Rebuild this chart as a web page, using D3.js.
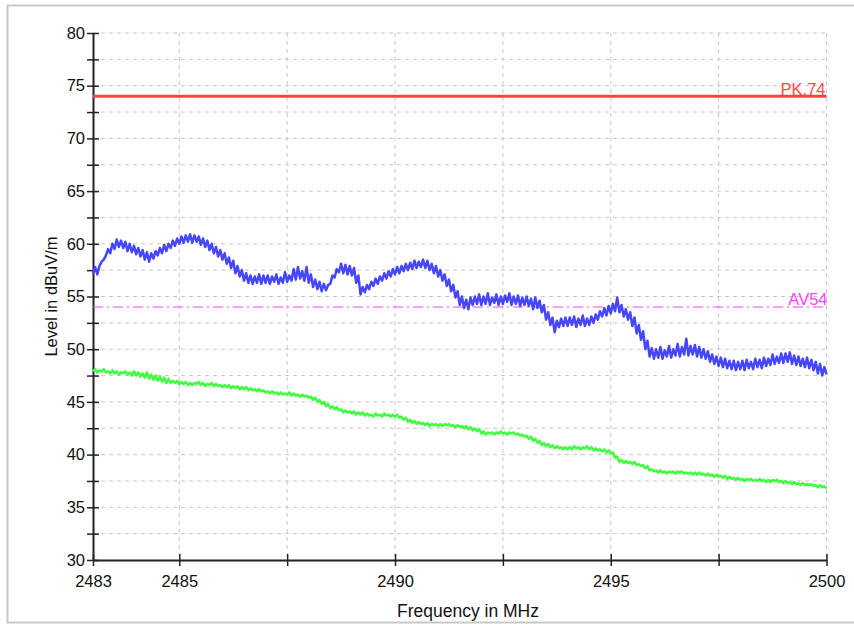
<!DOCTYPE html>
<html>
<head>
<meta charset="utf-8">
<script src="https://cdn.jsdelivr.net/npm/d3@7/dist/d3.min.js"></script>
<style>
  html, body { margin: 0; padding: 0; background: #fff; }
  svg { display: block; font-family: "Liberation Sans", Arial, sans-serif; }
</style>
</head>
<body>
<svg id="chart" width="854" height="626"></svg>
<script>
// Frequency sweep: 2483 .. 2500 MHz, one reading every 0.05 MHz
const freqStart = 2483;
const freqStep = 0.05;

// Peak detector trace (dBuV/m)
const peakLevels = [
  57.2, 57.8, 57.1, 57.9, 58.3, 58.5, 58.9, 59.5, 59.1, 60.0, 59.5, 60.4, 59.7, 60.3, 59.6, 60.2, 59.3, 60.0, 59.2, 59.8,
  59.0, 59.6, 58.8, 59.4, 58.5, 59.2, 58.3, 59.1, 58.6, 59.3, 58.9, 59.6, 59.1, 59.9, 59.3, 60.0, 59.6, 60.3, 59.8, 60.5,
  60.0, 60.7, 60.1, 60.8, 60.2, 60.9, 60.1, 60.8, 60.2, 60.7, 59.9, 60.5, 59.7, 60.3, 59.4, 60.0, 59.1, 59.7, 58.8, 59.4,
  58.5, 59.1, 58.1, 58.7, 57.7, 58.4, 57.2, 57.9, 56.9, 57.5, 56.5, 57.2, 56.3, 57.0, 56.2, 56.9, 56.3, 57.1, 56.2, 57.0,
  56.3, 57.0, 56.2, 56.9, 56.4, 57.1, 56.2, 56.8, 56.3, 57.3, 56.4, 57.0, 56.5, 57.6, 56.6, 57.8, 56.7, 57.4, 56.5, 57.8,
  56.3, 57.1, 55.9, 56.6, 55.7, 56.4, 55.5, 56.2, 55.6, 56.1, 56.2, 57.0, 56.8, 57.6, 57.3, 58.1, 57.2, 58.0, 57.1, 57.9,
  57.0, 57.7, 56.3, 57.0, 55.2, 55.9, 55.4, 56.1, 55.7, 56.4, 56.0, 56.7, 56.2, 56.9, 56.5, 57.2, 56.7, 57.4, 56.9, 57.6,
  57.1, 57.8, 57.2, 57.9, 57.4, 58.1, 57.5, 58.2, 57.6, 58.4, 57.7, 58.3, 57.8, 58.5, 57.7, 58.4, 57.5, 58.1, 57.2, 57.9,
  56.9, 57.5, 56.5, 57.1, 56.0, 56.6, 55.5, 56.1, 54.9, 55.5, 54.2, 55.0, 53.9, 54.7, 53.8, 54.9, 54.2, 55.0, 54.3, 55.2,
  54.2, 55.0, 54.3, 55.3, 54.2, 54.9, 54.4, 55.2, 54.2, 55.0, 54.3, 55.1, 54.5, 55.3, 54.2, 55.0, 54.3, 55.1, 54.1, 54.9,
  54.2, 55.0, 54.1, 54.8, 53.8, 54.9, 53.9, 54.6, 53.5, 54.2, 52.8, 53.5, 52.3, 53.0, 51.6, 52.7, 52.1, 52.9, 52.2, 53.0,
  52.2, 53.0, 52.3, 53.1, 52.1, 52.9, 52.3, 53.2, 52.2, 52.9, 52.3, 53.1, 52.5, 53.3, 52.8, 53.6, 53.1, 53.9, 53.2, 54.1,
  53.4, 54.3, 53.6, 54.9, 53.5, 54.2, 53.1, 53.8, 52.8, 53.5, 52.2, 53.0, 51.5, 52.3, 50.9, 51.7, 50.0, 50.8, 49.3, 50.1,
  49.1, 50.0, 49.2, 50.2, 49.1, 49.9, 49.3, 50.3, 49.2, 50.0, 49.4, 50.5, 49.3, 50.2, 49.5, 51.0, 49.4, 50.3, 49.5, 50.4,
  49.3, 50.2, 49.2, 50.0, 49.1, 49.8, 48.8, 49.5, 48.6, 49.3, 48.4, 49.2, 48.3, 49.1, 48.2, 48.9, 48.1, 48.9, 48.0, 48.8,
  48.1, 48.9, 48.0, 49.0, 48.2, 48.8, 48.1, 49.1, 48.3, 49.0, 48.2, 49.2, 48.4, 49.1, 48.5, 49.5, 48.6, 49.3, 48.7, 49.6,
  48.7, 49.6, 48.8, 49.7, 48.6, 49.4, 48.5, 49.3, 48.4, 49.1, 48.3, 49.2, 48.2, 49.0, 48.0, 48.8, 47.7, 48.6, 47.5, 48.3,
  47.6
];

// Average detector trace (dBuV/m)
const avgLevels = [
  47.9, 48.1, 47.8, 48.0, 47.9, 48.1, 47.8, 47.9, 47.7, 48.0, 47.7, 47.9, 47.6, 47.8, 47.7, 47.9, 47.6, 47.8, 47.5, 47.9,
  47.5, 47.8, 47.4, 47.7, 47.3, 47.8, 47.2, 47.6, 47.1, 47.5, 47.0, 47.4, 46.9, 47.3, 46.8, 47.2, 46.8, 47.0, 46.8, 47.0,
  46.7, 46.9, 46.7, 46.9, 46.6, 46.8, 46.6, 46.8, 46.7, 46.9, 46.6, 46.8, 46.5, 46.7, 46.6, 46.8, 46.5, 46.7, 46.5, 46.6,
  46.4, 46.6, 46.4, 46.6, 46.3, 46.5, 46.3, 46.5, 46.2, 46.4, 46.2, 46.4, 46.1, 46.3, 46.1, 46.2, 46.0, 46.2, 46.0, 46.1,
  45.9, 46.0, 45.8, 46.0, 45.8, 45.9, 45.7, 45.9, 45.7, 45.8, 45.7, 45.9, 45.6, 45.8, 45.6, 45.7, 45.5, 45.7, 45.5, 45.6,
  45.4, 45.5, 45.2, 45.4, 45.0, 45.2, 44.8, 45.0, 44.6, 44.8, 44.4, 44.6, 44.3, 44.5, 44.2, 44.3, 44.0, 44.2, 44.0, 44.1,
  43.9, 44.1, 43.8, 44.0, 43.8, 44.0, 43.7, 43.9, 43.7, 43.8, 43.6, 43.9, 43.7, 43.8, 43.6, 43.9, 43.7, 43.8, 43.6, 43.8,
  43.6, 43.8, 43.5, 43.6, 43.3, 43.5, 43.1, 43.3, 43.0, 43.2, 42.9, 43.1, 42.9, 43.0, 42.8, 43.0, 42.7, 42.9, 42.8, 42.9,
  42.7, 42.9, 42.7, 42.9, 42.8, 42.9, 42.7, 42.8, 42.6, 42.8, 42.6, 42.7, 42.5, 42.7, 42.4, 42.6, 42.3, 42.5, 42.2, 42.4,
  42.0, 42.2, 41.9, 42.1, 42.0, 42.1, 41.9, 42.1, 42.0, 42.2, 42.0, 42.1, 41.9, 42.1, 42.0, 42.1, 41.9, 42.0, 41.8, 41.9,
  41.7, 41.8, 41.5, 41.7, 41.3, 41.5, 41.1, 41.3, 40.9, 41.1, 40.8, 41.0, 40.7, 40.9, 40.6, 40.8, 40.6, 40.7, 40.5, 40.7,
  40.5, 40.7, 40.5, 40.8, 40.6, 40.7, 40.5, 40.7, 40.6, 40.8, 40.5, 40.7, 40.4, 40.6, 40.4, 40.5, 40.3, 40.5, 40.2, 40.4,
  40.1, 40.2, 39.7, 39.8, 39.3, 39.5, 39.2, 39.4, 39.2, 39.3, 39.1, 39.3, 39.0, 39.1, 38.9, 39.0, 38.7, 38.9, 38.5, 38.6,
  38.4, 38.5, 38.3, 38.5, 38.3, 38.4, 38.2, 38.4, 38.3, 38.4, 38.2, 38.4, 38.3, 38.4, 38.2, 38.3, 38.2, 38.3, 38.1, 38.3,
  38.1, 38.3, 38.1, 38.2, 38.0, 38.2, 38.0, 38.1, 37.9, 38.1, 37.9, 38.0, 37.8, 38.0, 37.7, 37.9, 37.7, 37.8, 37.6, 37.8,
  37.6, 37.7, 37.5, 37.7, 37.6, 37.7, 37.5, 37.6, 37.5, 37.7, 37.5, 37.6, 37.4, 37.6, 37.4, 37.6, 37.5, 37.6, 37.4, 37.5,
  37.3, 37.5, 37.3, 37.4, 37.2, 37.4, 37.2, 37.3, 37.1, 37.3, 37.1, 37.2, 37.1, 37.2, 37.0, 37.1, 36.9, 37.1, 36.9, 37.0,
  36.8
];

// Limit lines
const peakLimit = 74;
const avgLimit = 54;
const limitLabels = ["PK.74", "AV54"];

// Axis ticks
const xTicks = [2483, 2485, 2487.5, 2490, 2492.5, 2495, 2497.5, 2500];
const xTickLabels = [2483, 2485, 2490, 2495, 2500];
const yTicks = [30, 32.5, 35, 37.5, 40, 42.5, 45, 47.5, 50, 52.5, 55, 57.5, 60, 62.5, 65, 67.5, 70, 72.5, 75, 77.5, 80];
const yTickLabels = [30, 35, 40, 45, 50, 55, 60, 65, 70, 75, 80];
const xTitle = "Frequency in MHz";
const yTitle = "Level in dBuV/m";

const svg = d3.select("#chart");
const plot = { left: 93, right: 826.5, top: 33, bottom: 560 };
const fontFamily = "Liberation Sans, Arial, sans-serif";

// outer frame
svg.append("rect")
  .attr("x", 7.5).attr("y", 5.5)
  .attr("width", 860).attr("height", 617)
  .attr("fill", "none").attr("stroke", "#c8c8c8").attr("stroke-width", 2);

const x = d3.scaleLinear().domain([2483, 2500]).range([plot.left, plot.right]);
const y = d3.scaleLinear().domain([30, 80]).range([plot.bottom, plot.top]);

// dashed grid
const grid = svg.append("g");
grid.selectAll("line.v").data(xTicks.filter(d => d > 2483)).join("line")
  .attr("x1", d => x(d)).attr("x2", d => x(d))
  .attr("y1", plot.top).attr("y2", plot.bottom)
  .attr("stroke", "#c6c6c6").attr("stroke-width", 1).attr("stroke-dasharray", "4,4");
grid.selectAll("line.h").data(yTicks.filter(d => d > 30)).join("line")
  .attr("x1", plot.left).attr("x2", plot.right)
  .attr("y1", d => y(d)).attr("y2", d => y(d))
  .attr("stroke", "#c6c6c6").attr("stroke-width", 1).attr("stroke-dasharray", "4,4");

// axes
const xAxis = d3.axisBottom(x).tickValues(xTicks).tickSizeInner(6).tickSizeOuter(0)
  .tickFormat(d => xTickLabels.includes(d) ? d3.format("d")(d) : "");
const gx = svg.append("g").attr("transform", `translate(0,${plot.bottom})`).call(xAxis);
gx.select(".domain").attr("stroke", "#222").attr("stroke-width", 2);
gx.selectAll(".tick line").attr("stroke", "#222").attr("stroke-width", 1.5).attr("y1", -6).attr("y2", 6);
gx.selectAll(".tick text").attr("y", 15).attr("dy", "0.71em")
  .attr("font-size", 16.5).attr("fill", "#111").attr("font-family", fontFamily);

const yAxis = d3.axisLeft(y).tickValues(yTicks).tickSizeInner(6).tickSizeOuter(0)
  .tickFormat(d => yTickLabels.includes(d) ? d3.format("d")(d) : "");
const gy = svg.append("g").attr("transform", `translate(${plot.left},0)`).call(yAxis);
gy.select(".domain").attr("stroke", "#222").attr("stroke-width", 2);
gy.selectAll(".tick line").attr("stroke", "#222").attr("stroke-width", 1.5).attr("x1", -6).attr("x2", 6);
gy.selectAll(".tick text").attr("x", -8)
  .attr("font-size", 16.5).attr("fill", "#111").attr("font-family", fontFamily);

// axis titles
svg.append("text").attr("x", 468).attr("y", 617)
  .attr("text-anchor", "middle").attr("font-size", 17.5).attr("fill", "#111").text(xTitle);
svg.append("text").attr("transform", `translate(57,${(plot.top + plot.bottom) / 2}) rotate(-90)`)
  .attr("text-anchor", "middle").attr("font-size", 16.5).attr("fill", "#111").text(yTitle);

// limit lines
svg.append("line").attr("x1", plot.left).attr("x2", plot.right)
  .attr("y1", y(peakLimit)).attr("y2", y(peakLimit))
  .attr("stroke", "#ff4040").attr("stroke-width", 3);
svg.append("text").attr("x", plot.right - 1).attr("y", y(peakLimit) - 1)
  .attr("text-anchor", "end").attr("font-size", 16.5).attr("fill", "#ff4a4a").text(limitLabels[0]);

svg.append("line").attr("x1", plot.left).attr("x2", plot.right)
  .attr("y1", y(avgLimit)).attr("y2", y(avgLimit))
  .attr("stroke", "#ff3cff").attr("stroke-width", 1).attr("stroke-dasharray", "10,4,2,4");
svg.append("text").attr("x", plot.right + 1).attr("y", y(avgLimit) - 2)
  .attr("text-anchor", "end").attr("font-size", 16.5).attr("fill", "#ff44ff").text(limitLabels[1]);

// traces
const line = d3.line()
  .x((d, i) => x(freqStart + i * freqStep))
  .y(d => y(d));

svg.append("path").datum(avgLevels)
  .attr("d", line).attr("fill", "none")
  .attr("stroke", "#40ff40").attr("stroke-width", 2.5).attr("stroke-linejoin", "round");

svg.append("path").datum(peakLevels)
  .attr("d", line).attr("fill", "none")
  .attr("stroke", "#4646ff").attr("stroke-width", 2.5).attr("stroke-linejoin", "round");
</script>
</body>
</html>
